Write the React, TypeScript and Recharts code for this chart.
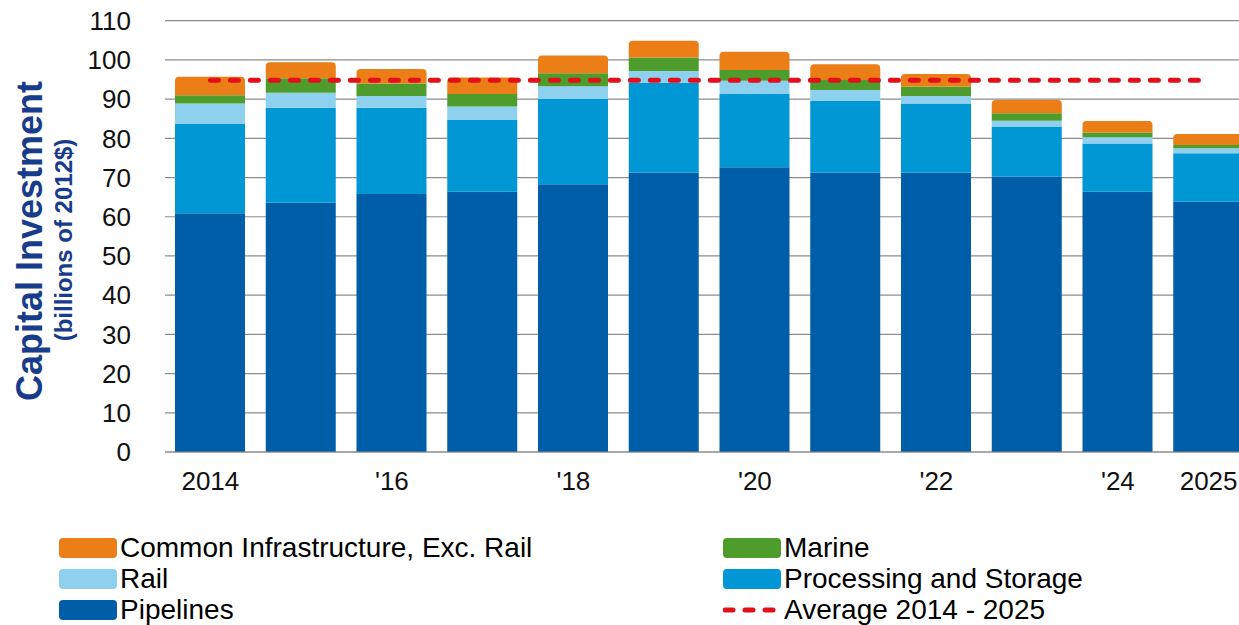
import React from 'react';
import { ComposedChart, Bar, Line, XAxis, YAxis, CartesianGrid } from 'recharts';

const years = ['2014', '2015', '2016', '2017', '2018', '2019', '2020', '2021', '2022', '2023', '2024', '2025'];
const tickLabels = ['2014', '', "'16", '', "'18", '', "'20", '', "'22", '', "'24", '2025'];
const pipelines = [60.9, 63.6, 65.8, 66.4, 68.3, 71.2, 72.6, 71.2, 71.2, 70.2, 66.4, 63.8];
const processing = [22.75, 24.2, 22.0, 18.3, 21.7, 23.0, 18.7, 18.3, 17.7, 12.8, 12.3, 12.4];
const rail = [5.25, 3.8, 3.0, 3.4, 3.3, 3.0, 3.4, 2.8, 1.9, 1.5, 1.6, 1.3];
const marine = [2.1, 3.7, 3.2, 3.2, 3.3, 3.4, 2.7, 2.6, 2.4, 1.9, 1.2, 0.8];
const common = [4.7, 4.1, 3.7, 4.2, 4.5, 4.3, 4.7, 4.0, 3.2, 3.4, 2.9, 2.8];
const average = [94.8, 94.8, 94.8, 94.8, 94.8, 94.8, 94.8, 94.8, 94.8, 94.8, 94.8, 94.8];
const yTicks = [0, 10, 20, 30, 40, 50, 60, 70, 80, 90, 100, 110];

const COLORS = {
  pipelines: '#005DA8',
  processing: '#0097D4',
  rail: '#8DD1EF',
  marine: '#4E9C2B',
  common: '#EB7E16',
  average: '#E3101B',
};

const data = years.map((y, i) => ({
  year: y,
  pipelines: pipelines[i],
  processing: processing[i],
  rail: rail[i],
  marine: marine[i],
  common: common[i],
  average: average[i],
}));

const FONT = '"Liberation Sans", Arial, Helvetica, sans-serif';

const legendItems = [
  { name: 'Common Infrastructure, Exc. Rail', color: COLORS.common, type: 'rect' },
  { name: 'Marine', color: COLORS.marine, type: 'rect' },
  { name: 'Rail', color: COLORS.rail, type: 'rect' },
  { name: 'Processing and Storage', color: COLORS.processing, type: 'rect' },
  { name: 'Pipelines', color: COLORS.pipelines, type: 'rect' },
  { name: 'Average 2014 - 2025', color: COLORS.average, type: 'dash' },
];

const AxisTitle = () => (
  <g>
    <text
      x={42}
      y={241}
      transform="rotate(-90, 42, 241)"
      textAnchor="middle"
      fill="#173C8A"
      fontFamily={FONT}
      fontWeight="bold"
      fontSize={36}
    >
      Capital Investment
    </text>
    <text
      x={72}
      y={240}
      transform="rotate(-90, 72, 240)"
      textAnchor="middle"
      fill="#173C8A"
      fontFamily={FONT}
      fontWeight="bold"
      fontSize={24}
    >
      (billions of 2012$)
    </text>
  </g>
);

export default function App() {
  return (
    <div
      style={{
        position: 'absolute',
        left: 0,
        top: 0,
        width: 1239,
        height: 625,
        overflow: 'hidden',
        background: '#fff',
      }}
    >
      <ComposedChart
        width={1262}
        height={500}
        data={data}
        margin={{ top: 20.7, right: 8, bottom: 8, left: 0 }}
        barGap={0}
      >
        <CartesianGrid vertical={false} stroke="#8c8c8c" strokeWidth={1.2} />
        <XAxis
          dataKey="year"
          interval={0}
          height={40}
          tickLine={false}
          tickSize={6}
          tickMargin={14}
          axisLine={{ stroke: '#8c8c8c', strokeWidth: 1.2 }}
          tickFormatter={(v: string, i: number) => tickLabels[i]}
          tick={{ fontFamily: FONT, fontSize: 26, fill: '#111' }}
        />
        <YAxis
          width={165}
          domain={[0, 110]}
          ticks={yTicks}
          interval={0}
          axisLine={false}
          tickLine={false}
          tickSize={6}
          tickMargin={28}
          tick={{ fontFamily: FONT, fontSize: 26, fill: '#111' }}
          label={() => <AxisTitle />}
        />
        <Bar dataKey="pipelines" stackId="a" fill={COLORS.pipelines} barSize={70} isAnimationActive={false} />
        <Bar dataKey="processing" stackId="a" fill={COLORS.processing} barSize={70} isAnimationActive={false} />
        <Bar dataKey="rail" stackId="a" fill={COLORS.rail} barSize={70} isAnimationActive={false} />
        <Bar dataKey="marine" stackId="a" fill={COLORS.marine} barSize={70} isAnimationActive={false} />
        <Bar dataKey="common" stackId="a" fill={COLORS.common} barSize={70} radius={[4, 4, 0, 0]} isAnimationActive={false} />
        <Line
          dataKey="average"
          type="linear"
          stroke={COLORS.average}
          strokeWidth={5}
          strokeDasharray="8 12"
          strokeLinecap="round"
          dot={false}
          activeDot={false}
          isAnimationActive={false}
        />
      </ComposedChart>
      <div style={{ position: 'absolute', left: 0, top: 0, width: 1239, height: 625, pointerEvents: 'none' }}>
        {legendItems.map((item, i) => {
          const col = i % 2;
          const row = Math.floor(i / 2);
          const left = col === 0 ? 59 : 723;
          const centerY = 547.5 + row * 31.3;
          return (
            <div
              key={item.name}
              style={{
                position: 'absolute',
                left,
                top: centerY - 18,
                height: 36,
                display: 'flex',
                alignItems: 'center',
                whiteSpace: 'nowrap',
              }}
            >
              {item.type === 'rect' ? (
                <div style={{ width: 58, height: 20, background: item.color, borderRadius: 4 }} />
              ) : (
                <svg width={58} height={20}>
                  <line
                    x1={2}
                    y1={10}
                    x2={56}
                    y2={10}
                    stroke={item.color}
                    strokeWidth={5}
                    strokeDasharray="8 12"
                    strokeLinecap="round"
                  />
                </svg>
              )}
              <span style={{ marginLeft: 3, fontFamily: FONT, fontSize: 28, color: '#000', lineHeight: '36px' }}>
                {item.name}
              </span>
            </div>
          );
        })}
      </div>
    </div>
  );
}
